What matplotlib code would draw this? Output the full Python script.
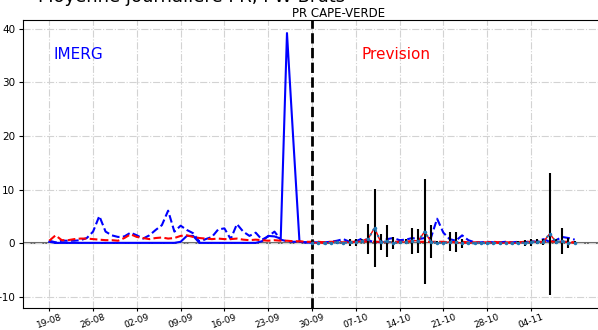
import numpy as np
import pandas as pd
import matplotlib
matplotlib.use("Agg")
import matplotlib.pyplot as plt
import matplotlib.dates as mdates

# daily values, first day 19-08, last day 11-11
start = "2023-08-19"
imerg = [0.3, 0.1, 0.1, 0.1, 0.1, 0.1, 0.1, 0.1, 0.1, 0.1,
         0.1, 0.1, 0.1, 0.1, 0.1, 0.1, 0.1, 0.1, 0.1, 0.1,
         0.1, 0.3, 1.4, 1.4, 0.1, 0.1, 0.1, 0.1, 0.1, 0.1,
         0.1, 0.1, 0.1, 0.1, 0.4, 1.4, 1.3, 0.9, 39.2, 19.5,
         0.3, 0.2, 0.1]
pw_blue = [0.5, 0.2, 0.5, 0.5, 0.5, 0.6, 1.0, 2.2, 5.1, 2.2,
           1.5, 1.2, 1.3, 2.0, 1.5, 0.9, 1.5, 2.5, 3.4, 6.1,
           2.2, 3.3, 2.5, 1.9, 0.3, 0.8, 1.2, 2.6, 2.8, 0.8,
           3.6, 2.2, 1.4, 2.0, 0.7, 1.3, 2.2, 0.7, 0.4, 0.3,
           0.3, 0.2, 0.2, 0.2, 0.2, 0.3, 0.5, 0.8, 0.3, 0.4,
           0.9, 0.5, 0.3, 0.2, 0.8, 1.0, 0.6, 0.7, 1.0, 0.8,
           1.0, 1.0, 4.6, 2.0, 0.8, 0.5, 1.5, 0.6, 0.2, 0.2,
           0.3, 0.2, 0.2, 0.3, 0.2, 0.3, 0.2, 0.4, 0.3, 0.8,
           0.3, 0.6, 1.2, 1.0, 0.7]
pw_red = [0.5, 1.5, 0.6, 0.6, 0.8, 0.9, 0.9, 0.8, 0.7, 0.6,
          0.6, 0.5, 1.0, 1.7, 1.2, 1.0, 0.8, 1.0, 1.1, 0.9,
          1.0, 1.4, 1.5, 1.2, 1.0, 0.9, 0.8, 0.9, 0.8, 0.8,
          0.9, 0.7, 0.6, 0.7, 0.6, 0.5, 0.6, 0.5, 0.5, 0.4,
          0.4, 0.3, 0.3, 0.3, 0.2, 0.3, 0.3, 0.2, 0.3, 0.3,
          0.3, 0.4, 0.3, 0.3, 0.2, 0.3, 0.3, 0.3, 0.4, 0.3,
          0.3, 0.3, 0.3, 0.3, 0.2, 0.2, 0.3, 0.2, 0.2, 0.2,
          0.2, 0.3, 0.2, 0.2, 0.2, 0.2, 0.3, 0.3, 0.3, 0.3,
          0.4, 0.3, 0.3, 0.3, 0.2]
# forecast, first day 30-09
fc_start = "2023-09-30"
fc_mean = [0.1, 0.1, 0.0, 0.1, 0.2, 0.1, 0.2, 0.2, 0.5, 0.9,
           2.9, 0.2, 0.4, 0.1, 0.2, 0.3, 0.5, 0.5, 2.2, 0.3,
           0.1, 0.1, 0.3, 0.3, 0.0, 0.1, 0.0, 0.1, 0.0, 0.1,
           0.0, 0.1, 0.0, 0.1, 0.1, 0.2, 0.3, 0.3, 1.8, 0.3,
           0.4, 0.1, 0.1]
fc_std = [0.0, 0.0, 0.1, 0.0, 0.3, 0.0, 0.6, 0.7, 0.4, 2.8,
          7.3, 1.5, 3.0, 1.1, 0.3, 0.5, 2.4, 2.2, 9.8, 3.1,
          0.3, 0.2, 1.8, 1.9, 0.9, 0.2, 0.1, 0.2, 0.1, 0.2,
          0.1, 0.2, 0.2, 0.3, 0.6, 0.7, 0.5, 0.6, 11.4, 0.5,
          2.4, 0.9, 0.3]

d_obs = pd.date_range(start, periods=len(pw_blue), freq="D")
d_imerg = pd.date_range(start, periods=len(imerg), freq="D")
d_fc = pd.date_range(fc_start, periods=len(fc_mean), freq="D")
ticks = pd.date_range(start, "2023-11-04", freq="7D")

fig = plt.figure(figsize=(5.98, 3.30), dpi=100)
ax = fig.add_axes([23 / 598, 22 / 330, 578 / 598, 288 / 330])

ax.plot(d_imerg, imerg, color='b', lw=1.5, ls='-')
ax.plot(d_obs, pw_blue, color='b', lw=1.5, ls='--')
ax.plot(d_obs, pw_red, color='r', lw=1.5, ls='--')
ax.plot(d_fc, fc_mean, color='r', lw=1.0, ls='-')
ax.errorbar(d_fc, fc_mean, yerr=fc_std, fmt=':.', color='C0', ecolor='k',
            elinewidth=1.5, markersize=3, lw=1.5)

ax.axhline(0, color='dimgray', lw=1.5, zorder=1)
ax.axvline(pd.Timestamp(fc_start), color='k', ls='--', lw=2)

ax.set_xticks(ticks)
ax.xaxis.set_major_formatter(mdates.DateFormatter('%d-%m'))
plt.setp(ax.get_xticklabels(), rotation=20, fontsize=6.5)
ax.tick_params(axis='x', length=2, pad=1)
ax.tick_params(axis='y', labelsize=7.5, length=3, pad=2.5)
ax.set_yticks([-10, 0, 10, 20, 30, 40])
ax.grid(True, color='lightgray', ls='-.', lw=0.8)

ax.text(0.052, 0.88, 'IMERG', color='b', fontsize=11, transform=ax.transAxes, va='center')
ax.text(0.585, 0.88, 'Prevision', color='r', fontsize=11, transform=ax.transAxes, va='center')
ax.set_title('PR CAPE-VERDE', fontsize=8.5, x=(339 - 23) / 578, pad=2)
fig.text(0.32, 0.994, 'Moyenne journalière PR, PW Bruts', fontsize=13,
         ha='center', va='baseline')

fig.savefig('out.png', dpi=100)
